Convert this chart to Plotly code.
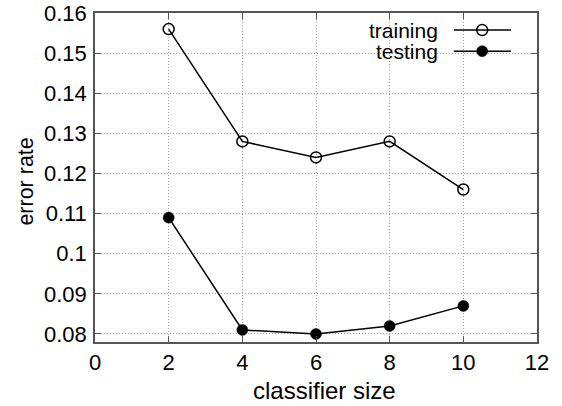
import plotly.graph_objects as go

classifier_size = [2, 4, 6, 8, 10]
training = [0.156, 0.128, 0.124, 0.128, 0.116]
testing = [0.109, 0.081, 0.080, 0.082, 0.087]
x_ticks = [0, 2, 4, 6, 8, 10, 12]
y_ticks = [0.08, 0.09, 0.10, 0.11, 0.12, 0.13, 0.14, 0.15, 0.16]
y_tick_labels = ["0.08", "0.09", "0.1", "0.11", "0.12", "0.13", "0.14", "0.15", "0.16"]
series_names = ["training", "testing"]
x_title = "classifier size"
y_title = "error rate"

FONT = "Liberation Sans, Arial, Helvetica, sans-serif"

fig = go.Figure()
fig.add_trace(go.Scatter(
    x=classifier_size, y=training, mode="lines+markers",
    line=dict(color="black", width=1.5),
    marker=dict(symbol="circle-open", size=11, color="black", line=dict(width=1.5, color="black")),
    showlegend=False))
fig.add_trace(go.Scatter(
    x=classifier_size, y=testing, mode="lines+markers",
    line=dict(color="black", width=1.5),
    marker=dict(symbol="circle", size=11, color="black", line=dict(width=0.5, color="black")),
    showlegend=False))

# legend samples on an overlay axis (0..1 units)
legend_y = [0.948, 0.884]
symbols = ["circle-open", "circle"]
for name, ly, sym in zip(series_names, legend_y, symbols):
    fig.add_trace(go.Scatter(
        x=[0.812, 0.941], y=[ly, ly], mode="lines",
        xaxis="x2", yaxis="y2",
        line=dict(color="black", width=1.5),
        showlegend=False, hoverinfo="skip"))
    fig.add_trace(go.Scatter(
        x=[0.876], y=[ly], mode="markers",
        xaxis="x2", yaxis="y2",
        marker=dict(symbol=sym, size=11, color="black",
                    line=dict(width=1.5 if sym == "circle-open" else 0.5, color="black")),
        showlegend=False, hoverinfo="skip"))
    fig.add_annotation(x=0.781, y=ly, xref="x2", yref="y2", text=name,
                       showarrow=False, xanchor="right", yanchor="middle",
                       font=dict(size=21, family=FONT, color="black"))

fig.add_annotation(x=0.519, y=-0.148, xref="paper", yref="paper", text=x_title,
                   showarrow=False, xanchor="center", yanchor="middle",
                   font=dict(size=24, family=FONT, color="black"))
fig.add_annotation(x=-0.155, y=0.489, xref="paper", yref="paper", text=y_title,
                   showarrow=False, xanchor="center", yanchor="middle", textangle=-90,
                   font=dict(size=21.5, family=FONT, color="black"))

axis_common = dict(
    showline=True, linecolor="#555555", linewidth=1.5, mirror="ticks",
    ticks="inside", ticklen=6, tickcolor="#555555", tickwidth=1,
    showgrid=True, gridcolor="#a0a0a0", griddash="1px,2px", gridwidth=1,
    zeroline=False, tickfont=dict(size=22, family=FONT, color="black"),
)

fig.update_layout(
    width=562, height=406,
    margin=dict(l=95, r=25, t=13, b=64, autoexpand=False),
    plot_bgcolor="white", paper_bgcolor="white",
    xaxis=dict(range=[0, 12], tickvals=x_ticks, **axis_common),
    yaxis=dict(range=[0.078, 0.16], tickvals=y_ticks, ticktext=y_tick_labels, ticklabelstandoff=2,
               **axis_common),
    xaxis2=dict(range=[0, 1], overlaying="x", visible=False),
    yaxis2=dict(range=[0, 1], overlaying="y", visible=False),
)

fig.write_html("out.html", config={"displayModeBar": False},
               post_script="document.body.style.margin='0';")
